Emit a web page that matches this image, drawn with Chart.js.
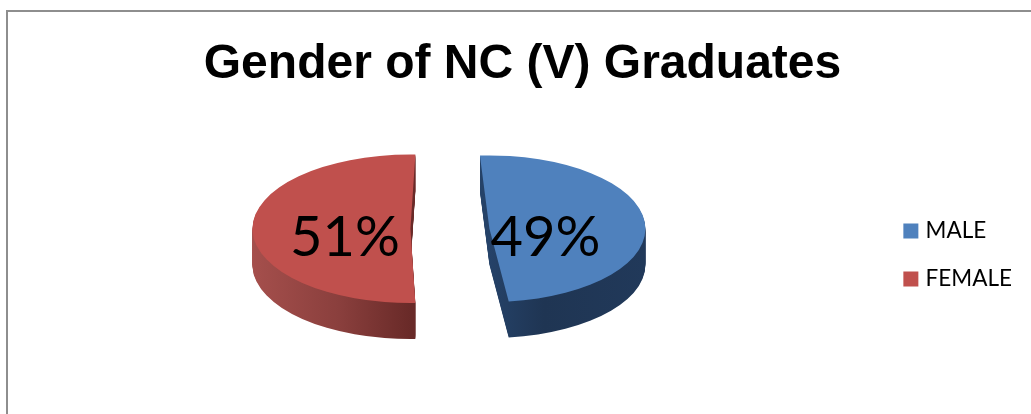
<!DOCTYPE html>
<html>
<head>
<meta charset="utf-8">
<style>
html,body{margin:0;padding:0;background:#fff;overflow:hidden;width:1031px;height:414px}
#frame{position:absolute;left:6px;top:10px;width:1040px;height:420px;border-left:2px solid #8e8e8e;border-top:2px solid #8e8e8e;background:#fff}
canvas{display:block}
</style>
<script src="https://cdn.jsdelivr.net/npm/chart.js@4"></script>
</head>
<body>
<div id="frame"><canvas id="c" width="1030" height="402"></canvas></div>
<script>
const titleText = "Gender of NC (V) Graduates";
const categories = ["MALE", "FEMALE"];
const values = [49, 51];
const faceColors = ["#4F81BD", "#C0504D"];
const rimStops = [
  [[0, "#254268"], [0.35, "#1f3553"], [1, "#21395a"]],
  [[0, "#a54f4c"], [0.55, "#8a3f3d"], [1, "#692a28"]]
];

// 3D look of the exploded pie
const TILT = 0.47, DEPTH = 36;
const EXPLODE = [37, -42], ANGLE_SHIFT = [-3.5, 1.8], RADII = [156, 158];
const LABEL_SHIFT = [56, -65.5], LABEL_Y = 9;
const LEGEND_SHIFT = {x: 6, y: 72};

const pie3d = {
  id: "pie3d",
  afterDatasetUpdate(chart) {
    chart.getDatasetMeta(0).data.forEach((arc, i) => {
      const s = ANGLE_SHIFT[i] * Math.PI / 180;
      arc.startAngle += s; arc.endAngle += s;
      arc.x += EXPLODE[i];
      arc.outerRadius = RADII[i];
    });
  },
  afterLayout(chart) {
    const l = chart.legend;
    l.top += LEGEND_SHIFT.y; l.bottom += LEGEND_SHIFT.y;
    l.left += LEGEND_SHIFT.x; l.right += LEGEND_SHIFT.x;
  },
  beforeDatasetsDraw(chart) {
    const ctx = chart.ctx, arcs = chart.getDatasetMeta(0).data;
    const cy = arcs[0].y;
    const tilt = () => { ctx.translate(0, cy); ctx.scale(1, TILT); ctx.translate(0, -cy); };
    arcs.forEach((arc, i) => {
      const x0 = i === 0 ? arc.x : arc.x - RADII[i], x1 = i === 0 ? arc.x + RADII[i] : arc.x;
      const grad = ctx.createLinearGradient(x0, 0, x1, 0);
      rimStops[i].forEach(([p, c]) => grad.addColorStop(p, c));
      const proxy = Object.create(arc);
      proxy.options = {backgroundColor: grad, borderColor: "rgba(0,0,0,0)", borderWidth: 0,
        offset: 0, spacing: 0, borderAlign: "center", circular: true, borderRadius: 0, borderJoinStyle: "round", borderDash: [], borderDashOffset: 0};
      for (let d = DEPTH; d >= 1; d--) {
        ctx.save();
        ctx.translate(0, d);
        tilt();
        proxy.draw(ctx);
        ctx.restore();
      }
    });
    ctx.save();
    tilt();
  },
  afterDatasetsDraw(chart) {
    const ctx = chart.ctx;
    ctx.restore();
    const arcs = chart.getDatasetMeta(0).data;
    ctx.save();
    ctx.fillStyle = "#000";
    ctx.font = '56px Lato, "Open Sans", sans-serif';
    ctx.textAlign = "center";
    ctx.textBaseline = "middle";
    arcs.forEach((arc, i) => ctx.fillText(values[i] + "%", arc.x + LABEL_SHIFT[i], arc.y + LABEL_Y));
    ctx.restore();
  }
};

new Chart(document.getElementById("c"), {
  type: "pie",
  data: {
    labels: categories,
    datasets: [{data: values, backgroundColor: faceColors, borderWidth: 0, clip: false}]
  },
  plugins: [pie3d],
  options: {
    responsive: false,
    animation: false,
    rotation: 0,
    radius: RADII[1],
    layout: {padding: {left: 21, right: 22, top: 0, bottom: 60}},
    plugins: {
      tooltip: {enabled: false},
      title: {display: true, text: titleText, color: "#000",
        font: {family: '"Liberation Sans", Arial, sans-serif', size: 48, weight: "bold"},
        padding: {top: 24, bottom: 10}},
      legend: {position: "right",
        labels: {boxWidth: 7, boxHeight: 7, padding: 25.5, color: "#000",
          font: {family: 'Lato, "Open Sans", sans-serif', size: 22.5},
          generateLabels(chart) {
            return Chart.overrides.pie.plugins.legend.labels.generateLabels(chart)
              .map(it => ({...it, strokeStyle: it.fillStyle, lineWidth: 8}));
          }}}
    }
  }
});
</script>
</body>
</html>
